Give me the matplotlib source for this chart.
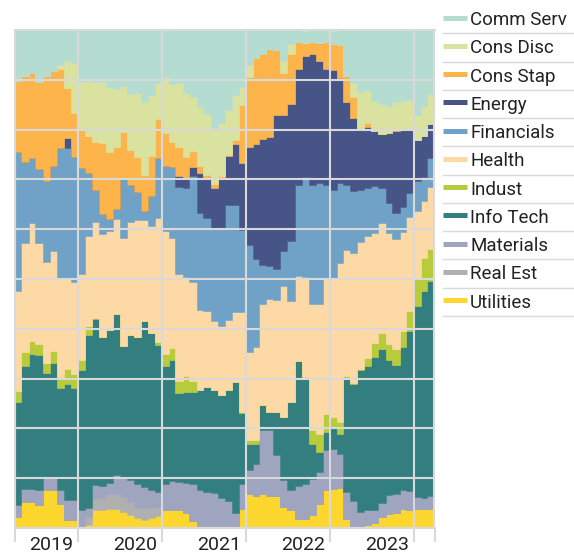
import numpy as np
import pandas as pd
import matplotlib
matplotlib.use("Agg")
import matplotlib.pyplot as plt
from matplotlib.lines import Line2D

plt.rcParams["font.family"] = ["Roboto", "DejaVu Sans"]

# monthly sector weights (%), Apr 2019 .. Mar 2024
months = pd.date_range("2019-04-01", periods=60, freq="MS")
years = ["2019", "2020", "2021", "2022", "2023"]

comm_serv = [10.3, 9.2, 8.7, 10.3, 9.2, 8.1, 7.0, 6.3, 6.7, 10.3, 10.3, 10.3,
             10.5, 11.5, 11.7, 11.2, 12.7, 12.7, 14.3, 13.1, 10.7, 9.5, 10.7, 10.7,
             12.5, 13.4, 15.4, 16.7, 19.7, 18.7, 16.1, 13.1, 11.4, 7.1, 5.7, 4.7,
             3.9, 4.1, 6.3, 2.8, 2.5, 2.5, 2.5, 2.5, 2.5, 2.7, 3.1, 9.1,
             10.7, 12.3, 12.2, 14.2, 14.7, 15.1, 14.5, 14.3, 14.1, 17.1, 15.4, 12.7]
cons_disc = [0, 0, 0, 0, 0, 0, 0.9, 5.4, 10.0, 9.5, 10.9, 12.0,
             12.1, 13.0, 11.7, 9.3, 11.3, 13.0, 14.7, 12.2, 7.1, 11.1, 11.7, 12.7,
             12.9, 10.9, 12.0, 12.3, 11.3, 10.7, 9.0, 9.0, 3.7, 2.3, 0, 0,
             0, 0, 2.3, 2.0, 0, 0, 0, 0, 0, 0, 0, 0,
             2.7, 7.4, 6.7, 6.1, 6.0, 5.4, 5.3, 5.5, 5.9, 5.0, 6.0, 6.0]
cons_stap = [14.2, 17.3, 17.1, 17.5, 21.1, 19.2, 15.7, 9.9, 8.9, 7.8, 7.5, 9.7,
             14.3, 13.5, 12.4, 9.2, 7.1, 7.0, 7.2, 8.0, 7.9, 6.7, 5.1, 6.0,
             4.3, 3.3, 1.3, 0.7, 0.7, 0.3, 0.3, 0.7, 11.7, 14.0, 17.1, 17.0,
             17.7, 13.0, 8.5, 10.0, 5.3, 2.5, 2.3, 3.7, 5.3, 5.1, 6.6, 5.3,
             4.3, 0.3, 0.7, 0, 0, 0, 0.4, 0.3, 0, 0, 0, 0]
energy = [0, 0, 0, 0, 0, 0, 0, 2.0, 0, 0, 0, 0,
          0, 0, 0, 0, 0, 0, 0, 0, 0, 0, 0, 2.2,
          1.9, 1.8, 8.0, 8.0, 8.3, 10.3, 9.7, 12.3, 13.3, 19.8, 23.2, 25.4,
          25.8, 30.9, 27.3, 27.6, 23.3, 24.3, 26.3, 24.5, 23.3, 24.1, 21.1, 16.7,
          14.7, 12.0, 12.3, 11.0, 11.0, 14.1, 16.5, 15.5, 12.7, 8.3, 8.3, 6.9]
financials = [28.0, 16.1, 13.1, 14.8, 16.3, 17.0, 26.1, 26.3, 25.1, 21.3, 12.7, 6.5,
              4.0, 2.5, 2.0, 12.1, 7.4, 5.5, 1.9, 6.0, 12.0, 13.0, 14.1, 17.3,
              17.8, 21.3, 19.6, 18.6, 18.5, 19.4, 23.1, 21.6, 16.5, 21.5, 17.7, 7.9,
              6.7, 6.2, 7.0, 12.0, 18.3, 20.0, 24.0, 24.3, 18.6, 18.0, 15.9, 12.9,
              12.3, 10.5, 9.7, 9.5, 7.0, 6.0, 5.2, 4.9, 4.8, 6.0, 4.7, 5.8]
health = [20.1, 21.9, 23.7, 20.3, 20.2, 20.1, 19.9, 18.2, 18.3, 17.2, 18.0, 19.3,
          20.7, 19.9, 19.1, 21.7, 22.7, 23.5, 20.2, 21.5, 24.9, 24.7, 22.2, 21.5,
          19.9, 19.7, 16.0, 15.3, 13.8, 13.9, 14.1, 14.0, 20.1, 17.7, 18.7, 20.3,
          22.7, 22.5, 26.3, 20.3, 17.1, 20.1, 25.3, 26.0, 27.5, 27.7, 32.1, 25.4,
          26.2, 25.5, 24.5, 22.0, 22.0, 22.3, 22.1, 19.9, 18.9, 13.3, 11.5, 12.5]
indust = [2.1, 2.8, 2.6, 2.2, 2.0, 2.3, 2.2, 2.9, 2.9, 2.1, 1.8, 0.2,
          0, 0, 0, 0, 0, 0, 0, 0, 0.7, 2.5, 2.3, 2.5,
          3.3, 2.3, 0, 0, 0, 0, 0, 0, 0.3, 0.7, 0.7, 0,
          0, 0, 0, 0, 0, 0.1, 2.7, 3.7, 3.5, 2.0, 2.3, 0.3,
          0.2, 0.1, 1.5, 2.9, 3.3, 3.3, 3.3, 3.3, 4.0, 5.7, 6.7, 6.5]
info_tech = [20.7, 24.7, 27.1, 27.2, 21.1, 23.0, 20.6, 23.4, 22.5, 28.1, 34.8, 33.3,
             29.9, 30.7, 32.3, 26.5, 29.1, 29.6, 33.3, 31.5, 29.5, 23.7, 24.3, 17.8,
             18.2, 18.5, 20.0, 21.0, 20.7, 20.7, 22.2, 26.2, 14.1, 5.3, 4.0, 5.0,
             3.7, 8.7, 12.7, 17.7, 25.1, 21.4, 7.0, 4.0, 3.7, 4.3, 4.0, 23.0,
             23.5, 28.5, 29.0, 30.7, 30.9, 27.0, 25.9, 28.7, 32.2, 38.3, 41.4, 43.1]
materials = [2.4, 2.6, 2.5, 3.0, 2.4, 2.5, 2.7, 4.0, 4.0, 3.1, 1.7, 2.7,
             2.5, 2.2, 3.9, 3.7, 4.3, 4.7, 4.3, 3.7, 2.9, 5.2, 5.9, 5.7,
             6.1, 7.3, 7.7, 7.3, 7.0, 6.0, 5.5, 3.1, 5.0, 4.8, 6.5, 12.7,
             13.2, 8.2, 5.3, 4.0, 6.5, 7.0, 7.3, 6.3, 7.9, 8.0, 6.8, 5.3,
             5.1, 3.0, 2.9, 2.6, 2.7, 3.9, 3.8, 3.7, 3.7, 2.5, 2.3, 2.6]
real_est = [0, 0, 0, 0, 0, 0, 0, 0, 0, 0, 1.7, 2.2,
            2.3, 2.9, 2.9, 3.0, 2.7, 2.1, 2.3, 2.0, 1.8, 0, 0, 0,
            0, 0, 0, 0, 0, 0, 0, 0, 0, 0, 0, 0,
            0, 0, 0, 0, 0, 0, 0, 0, 0, 0, 0, 0,
            0, 0, 0, 0, 0, 0, 0, 0, 0, 0, 0, 0]
utilities = [2.3, 5.3, 5.3, 4.6, 7.7, 7.7, 4.9, 1.6, 1.6, 0.5, 0.6, 3.7,
             3.7, 3.9, 3.9, 3.3, 2.6, 2.0, 1.7, 2.0, 2.5, 3.6, 3.6, 3.6,
             3.0, 1.5, 0, 0, 0, 0, 0, 0, 3.9, 6.8, 6.4, 6.9,
             6.4, 6.4, 4.3, 3.6, 1.9, 1.9, 2.6, 4.9, 7.7, 7.9, 8.1, 1.9,
             0.3, 0.3, 0.7, 1.0, 2.3, 2.8, 3.0, 3.9, 3.7, 3.8, 3.8, 3.8]

names = ["Comm Serv", "Cons Disc", "Cons Stap", "Energy", "Financials", "Health",
         "Indust", "Info Tech", "Materials", "Real Est", "Utilities"]
colors = ["#b5dcd0", "#d9e29e", "#fdb44b", "#465488", "#6fa2c6", "#fdd9a6",
          "#b8cb3a", "#337f80", "#9fa4bf", "#b0b0b0", "#fdd62e"]
series = [comm_serv, cons_disc, cons_stap, energy, financials, health,
          indust, info_tech, materials, real_est, utilities]

grid_c = "#d9d9d9"
W, H = 574, 555

fig = plt.figure(figsize=(W / 100, H / 100), dpi=100)
ax = fig.add_axes([14.5 / W, 1 - 528 / H, 420 / W, 498 / H])

# step edges: one extra month so the last value gets its full width
x = pd.date_range(months[0], periods=len(months) + 1, freq="MS")
ys = [np.append(s, s[-1]) for s in series[::-1]]
ax.stackplot(x, ys, colors=colors[::-1], step="post", linewidth=0.4,
             edgecolor="face")

ax.set_xlim(x[0], x[-1])
ax.set_ylim(0, 100)

year_ends = pd.to_datetime([f"{int(y) + 1}-01-01" for y in years])
ax.set_xticks([x[0], *year_ends, x[-1]])
ax.set_xticklabels([])
ax.set_yticks(np.arange(0, 101, 10))
ax.set_yticklabels([])
ax.tick_params(axis="x", length=10, width=1.5, color=grid_c, direction="out")
ax.tick_params(axis="y", length=0)
ax.grid(True, color=grid_c, linewidth=1.5)
ax.set_axisbelow(False)
for sp in ax.spines.values():
    sp.set_color(grid_c)
    sp.set_linewidth(1.5)

for yr, xe in zip(years, year_ends):
    ax.annotate(yr, xy=(xe, 0), xycoords=("data", "axes fraction"),
                xytext=(-5, -17.5), textcoords="offset pixels",
                ha="right", va="center", fontsize=14, color="#222222")

# legend drawn by hand: colour bar, label, separator line
for i, (name, c) in enumerate(zip(names, colors)):
    yc = 1 - (20 + 28.25 * i) / H
    fig.add_artist(Line2D([443 / W, 467 / W], [yc + 2.5 / H, yc + 2.5 / H],
                          transform=fig.transFigure, color=c, linewidth=3.6,
                          solid_capstyle="butt"))
    fig.text(470 / W, yc, name, fontsize=13.5, color="#222222", va="center",
             ha="left")
    ys_ = 1 - (33.3 + 28.25 * i) / H
    fig.add_artist(Line2D([443 / W, 1], [ys_, ys_], transform=fig.transFigure,
                          color=grid_c, linewidth=1.0))

fig.savefig("out.png", dpi=100)
